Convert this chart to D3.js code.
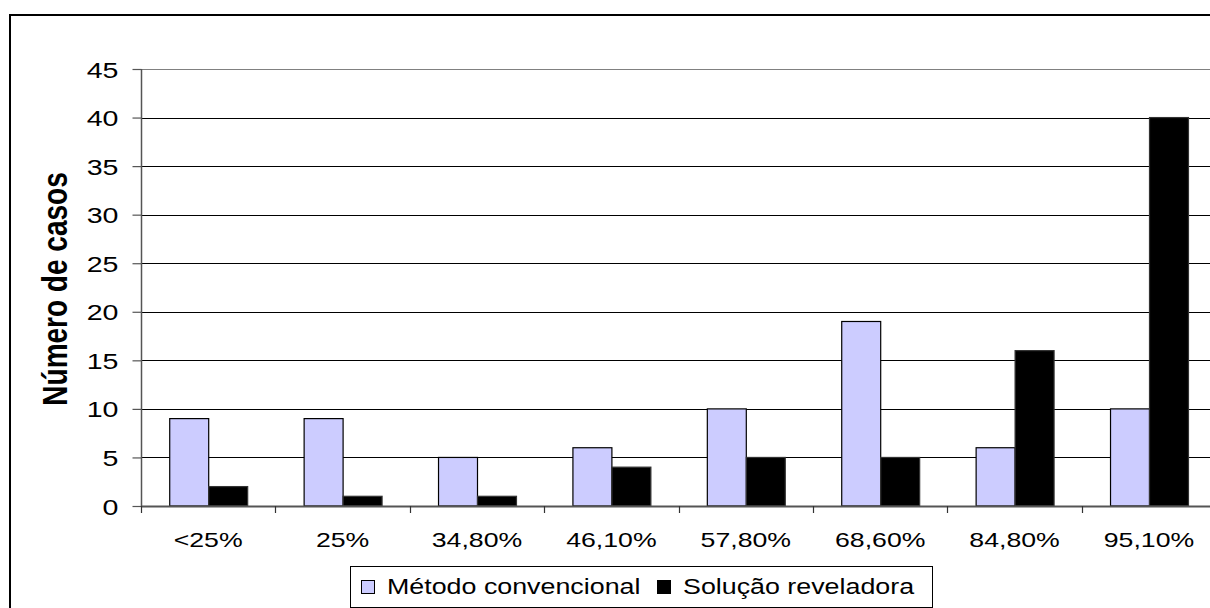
<!DOCTYPE html>
<html>
<head>
<meta charset="utf-8">
<script src="https://cdn.jsdelivr.net/npm/d3@7"></script>
<style>
  html, body { margin: 0; padding: 0; background: #fff; }
  svg { display: block; font-family: "Liberation Sans", Arial, sans-serif; }
</style>
</head>
<body>
<svg id="chart" width="1210" height="608"></svg>
<script>
// Faixas de eficiência (eixo das categorias)
const categories = ["<25%", "25%", "34,80%", "46,10%", "57,80%", "68,60%", "84,80%", "95,10%"];
// Número de casos por método
const seriesNames = ["Método convencional", "Solução reveladora"];
const metodoConvencional = [9, 9, 5, 6, 10, 19, 6, 10];
const solucaoReveladora = [2, 1, 1, 4, 5, 5, 16, 40];
const yTicks = [0, 5, 10, 15, 20, 25, 30, 35, 40, 45];
const yTitle = "Número de casos";

const series = [
  { name: seriesNames[0], values: metodoConvencional, fill: "#CCCCFF", stroke: "#000" },
  { name: seriesNames[1], values: solucaoReveladora, fill: "#000000", stroke: "#333" }
];

const svg = d3.select("#chart");
const SX = 1.27;        // horizontal text stretch
const SX_LEGEND = 1.22; // legend text stretch

// Outer frame of the chart object
svg.append("rect")
  .attr("x", 10).attr("y", 15)
  .attr("width", 1240).attr("height", 640)
  .attr("fill", "none").attr("stroke", "#000").attr("stroke-width", 2);

const plot = { left: 141, right: 141 + 8 * 134.4, top: 69, bottom: 506 };

const x = d3.scaleBand()
  .domain(categories)
  .range([plot.left, plot.right])
  .paddingInner(0.42)
  .paddingOuter(0.21);

const xSub = d3.scaleBand()
  .domain(seriesNames)
  .range([0, x.bandwidth()]);

const y = d3.scaleLinear()
  .domain([0, 45])
  .range([plot.bottom, plot.top]);

// Gridlines
svg.append("g")
  .selectAll("line")
  .data(yTicks.filter(t => t > 0))
  .join("line")
  .attr("x1", plot.left).attr("x2", 1210)
  .attr("y1", d => Math.round(y(d)) + 0.5)
  .attr("y2", d => Math.round(y(d)) + 0.5)
  .attr("stroke", d => d === 45 ? "#808080" : "#000")
  .attr("stroke-width", 1);

// Bars
const groups = svg.append("g")
  .selectAll("g")
  .data(categories)
  .join("g")
  .attr("transform", d => `translate(${x(d)},0)`);

groups.selectAll("rect")
  .data((c, i) => series.map(s => ({ s, v: s.values[i] })))
  .join("rect")
  .attr("x", d => xSub(d.s.name) + 0.5)
  .attr("y", d => y(d.v))
  .attr("width", xSub.bandwidth())
  .attr("height", d => y(0) - y(d.v))
  .attr("fill", d => d.s.fill)
  .attr("stroke", d => d.s.stroke)
  .attr("stroke-width", 1.2);

// Y axis
const yAxisG = svg.append("g")
  .attr("transform", `translate(${plot.left + 0.5},0)`)
  .call(d3.axisLeft(y).tickValues(yTicks).tickSize(9).tickPadding(0).tickFormat(d3.format("d")));
yAxisG.select(".domain").attr("stroke", "#555").attr("stroke-width", 1.5)
  .attr("d", `M0,${plot.top}V${plot.bottom}`);
yAxisG.selectAll(".tick line").attr("stroke", "#555").attr("stroke-width", 1.2);
yAxisG.selectAll(".tick text")
  .attr("x", null).attr("dy", null)
  .attr("transform", "translate(-23,8) scale(" + SX + ",1)")
  .attr("font-size", 22.5)
  .attr("font-family", "'Liberation Sans', Arial, sans-serif")
  .attr("fill", "#000")
  .attr("text-anchor", "end");

// X axis
const xAxisG = svg.append("g")
  .attr("transform", `translate(0,${plot.bottom + 0.5})`)
  .call(d3.axisBottom(x).tickSize(0).tickPadding(0));
xAxisG.select(".domain").attr("stroke", "#555").attr("stroke-width", 2)
  .attr("d", `M${plot.left},0H1210`);
xAxisG.selectAll(".tick text")
  .attr("y", null).attr("dy", null)
  .attr("transform", "translate(0,40) scale(" + SX + ",1)")
  .attr("font-size", 21)
  .attr("font-family", "'Liberation Sans', Arial, sans-serif")
  .attr("fill", "#000");

// Category boundary tick marks
const step = x.step();
svg.append("g")
  .selectAll("line")
  .data(d3.range(categories.length + 1))
  .join("line")
  .attr("x1", i => Math.round(plot.left + i * step) + 0.5)
  .attr("x2", i => Math.round(plot.left + i * step) + 0.5)
  .attr("y1", plot.bottom)
  .attr("y2", plot.bottom + 7)
  .attr("stroke", "#333")
  .attr("stroke-width", 1.2);

// Y axis title
svg.append("text")
  .attr("transform", `translate(67,289) scale(${SX},1) rotate(-90)`)
  .attr("text-anchor", "middle")
  .attr("font-size", 28)
  .attr("font-weight", "bold")
  .attr("fill", "#000")
  .text(yTitle);

// Legend
const legend = svg.append("g");
legend.append("rect")
  .attr("x", 350.5).attr("y", 566.5)
  .attr("width", 582).attr("height", 41)
  .attr("fill", "#fff").attr("stroke", "#000").attr("stroke-width", 1);

const legendX = [361, 657];
const items = legend.selectAll("g.item")
  .data(series)
  .join("g")
  .attr("class", "item")
  .attr("transform", (d, i) => `translate(${legendX[i]},0)`);
items.append("rect")
  .attr("x", 0.5).attr("y", 580.5)
  .attr("width", 13).attr("height", 13)
  .attr("fill", d => d.fill)
  .attr("stroke", "#000").attr("stroke-width", 1);
items.append("text")
  .attr("transform", `translate(26,594.3) scale(${SX_LEGEND},1)`)
  .attr("font-size", 22)
  .attr("fill", "#000")
  .text(d => d.name);
</script>
</body>
</html>
